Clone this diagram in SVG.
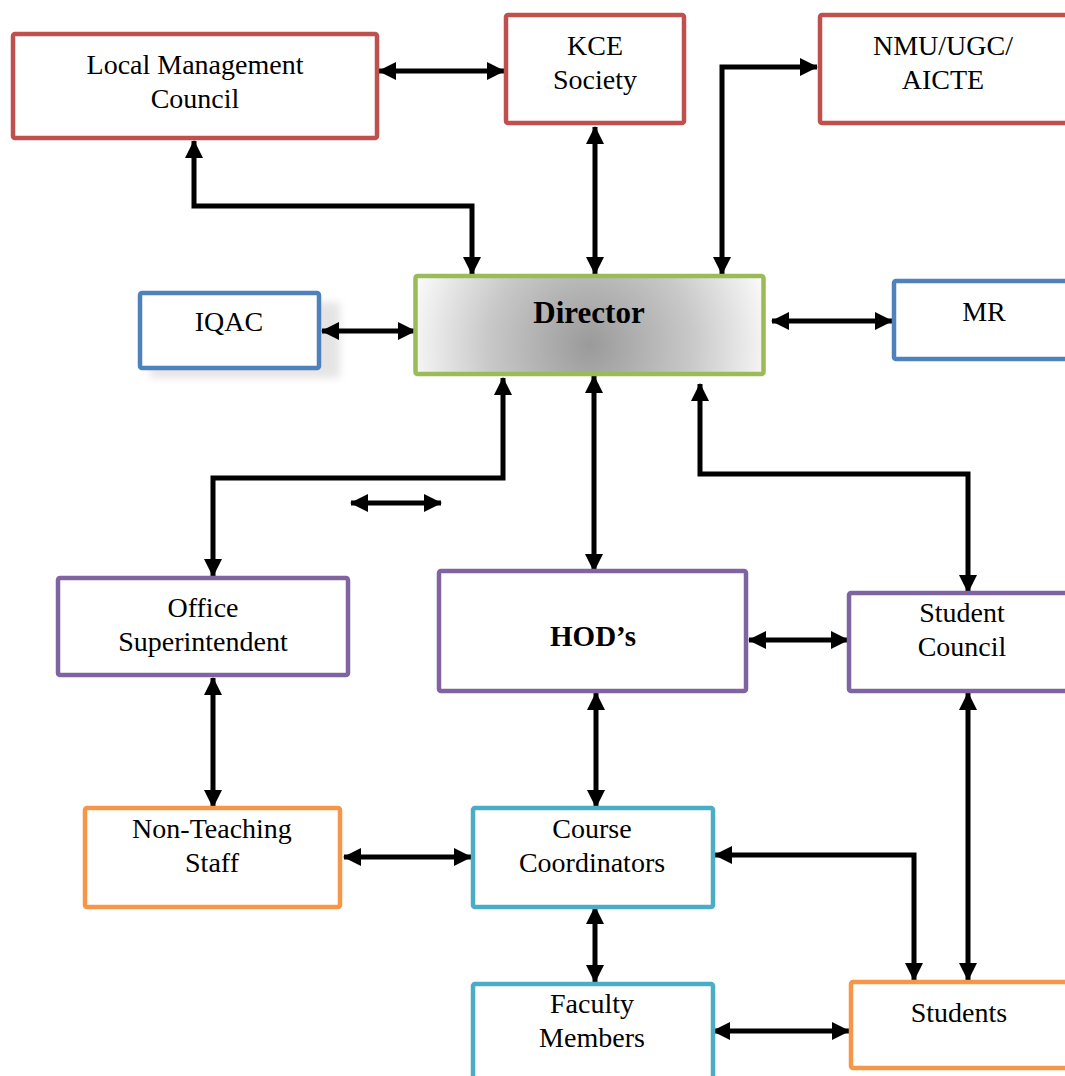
<svg xmlns="http://www.w3.org/2000/svg" width="1065" height="1076" viewBox="0 0 1065 1076">
<style>
.box{fill:#fff;stroke-width:4.5}
.red{stroke:#C0504D}.blue{stroke:#4F81BD}.green{stroke:#9BBB59}.purple{stroke:#8064A2}.orange{stroke:#F79646}.cyan{stroke:#4BACC6}
text{font-family:"Liberation Serif","Times New Roman",serif;font-size:28px;fill:#000;text-anchor:middle}
.b{font-weight:bold}
.c{fill:none;stroke:#000;stroke-width:5;marker-start:url(#ah);marker-end:url(#ah)}
</style>
<defs>
<marker id="ah" viewBox="0 0 18 18" refX="17" refY="9" markerWidth="18" markerHeight="18" markerUnits="userSpaceOnUse" orient="auto-start-reverse">
<path d="M0,0 L18,9 L0,18 z" fill="#000"/>
</marker>
<radialGradient id="dg" gradientUnits="userSpaceOnUse" cx="590" cy="345" r="185">
<stop offset="0" stop-color="#9a9a9a"/>
<stop offset="0.55" stop-color="#c8c8c8"/>
<stop offset="1" stop-color="#fbfbfb"/>
</radialGradient>
<filter id="sh" x="-20%" y="-20%" width="140%" height="140%">
<feGaussianBlur stdDeviation="4"/>
</filter>
</defs>
<rect width="1065" height="1076" fill="#fff"/>

<g id="connectors">
<path class="c" d="M379,71 H504"/>
<path class="c" d="M194,141 V206 H472 V274"/>
<path class="c" d="M595,127 V274"/>
<path class="c" d="M722,274 V67 H817"/>
<path class="c" d="M322,331 H415"/>
<path class="c" d="M772,321 H892"/>
<path class="c" d="M503,378 V478 H213 V576"/>
<path class="c" d="M351,503 H441"/>
<path class="c" d="M594,376 V571"/>
<path class="c" d="M700,384 V474 H968 V592"/>
<path class="c" d="M749,640 H848"/>
<path class="c" d="M213,678 V807"/>
<path class="c" d="M596,693 V807"/>
<path class="c" d="M344,857 H471"/>
<path class="c" d="M715,855 H914 V980"/>
<path class="c" d="M968,693 V980"/>
<path class="c" d="M595,907 V982"/>
<path class="c" d="M713,1031 H849"/>
</g>

<g id="lmc">
<rect class="box red" x="13" y="34" width="364" height="104" rx="2"/>
<text x="195" y="74">Local Management</text>
<text x="195" y="108">Council</text>
</g>
<g id="kce">
<rect class="box red" x="506" y="15" width="178" height="108" rx="2"/>
<text x="595" y="55">KCE</text>
<text x="595" y="89">Society</text>
</g>
<g id="nmu">
<rect class="box red" x="820" y="15" width="270" height="108" rx="2"/>
<text x="943" y="55">NMU/UGC/</text>
<text x="943" y="89">AICTE</text>
</g>
<g id="iqac">
<rect x="150" y="302" width="190" height="76" fill="#000" opacity="0.10" filter="url(#sh)"/>
<rect class="box blue" x="140" y="293" width="179" height="75" rx="2"/>
<text x="229" y="331">IQAC</text>
</g>
<g id="director">
<rect class="box green" x="415.5" y="276" width="348" height="98" rx="2" style="fill:url(#dg)"/>
<text class="b" x="589" y="323" style="font-size:31px">Director</text>
</g>
<g id="mr">
<rect class="box blue" x="894" y="281" width="200" height="78" rx="2"/>
<text x="984" y="321">MR</text>
</g>
<g id="office">
<rect class="box purple" x="58" y="578" width="290" height="97" rx="2"/>
<text x="203" y="617">Office</text>
<text x="203" y="651">Superintendent</text>
</g>
<g id="hods">
<rect class="box purple" x="439" y="571" width="307" height="120" rx="2"/>
<text class="b" x="593" y="646" style="font-size:29px">HOD’s</text>
</g>
<g id="studentcouncil">
<rect class="box purple" x="849" y="593" width="240" height="98" rx="2"/>
<text x="962" y="622">Student</text>
<text x="962" y="656">Council</text>
</g>
<g id="nonteaching">
<rect class="box orange" x="85" y="808" width="255" height="99" rx="2"/>
<text x="212" y="838">Non-Teaching</text>
<text x="212" y="872">Staff</text>
</g>
<g id="coursecoord">
<rect class="box cyan" x="473" y="808" width="240" height="99" rx="2"/>
<text x="592" y="838">Course</text>
<text x="592" y="872">Coordinators</text>
</g>
<g id="faculty">
<rect class="box cyan" x="473" y="984" width="240" height="110" rx="2"/>
<text x="592" y="1013">Faculty</text>
<text x="592" y="1047">Members</text>
</g>
<g id="students">
<rect class="box orange" x="851" y="982" width="240" height="86" rx="2"/>
<text x="959" y="1022">Students</text>
</g>
</svg>
